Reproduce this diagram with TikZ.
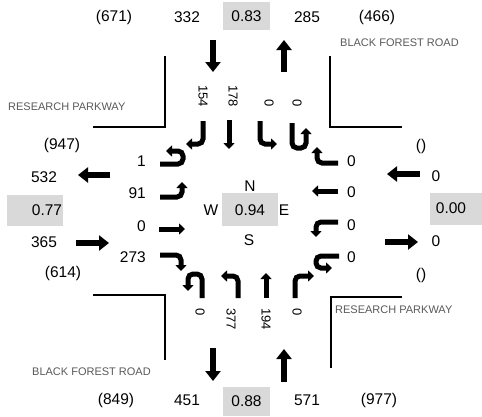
\documentclass[tikz,border=0pt]{standalone}
\usepackage{fontspec}
\setmainfont{Liberation Sans}
\usetikzlibrary{arrows.meta}

\begin{document}
\begin{tikzpicture}[x=1pt, y=-1pt,
    every node/.style={inner sep=0pt, font=\fontsize{15.5}{18}\selectfont},
    turnVol/.style={rotate=-90, font=\fontsize{13}{15}\selectfont},
    roadName/.style={anchor=west, text=roadColour, font=\fontsize{11}{13}\selectfont},
    approach/.style={line width=6.5pt, -{Triangle[length=10pt, width=15pt]}},
    movement/.style={line width=5pt, rounded corners=5pt, -{Triangle[length=6pt, width=11pt]}},
    curb/.style={line width=1.5pt}]
    % Define colours
    \definecolor{boxColour}{HTML}{D9D9D9}
    \definecolor{roadColour}{HTML}{595959}

    % Fix the canvas
    \useasboundingbox (0,0) rectangle (482,416);

    % Draw the shaded boxes
    \fill[boxColour] (223,2) rectangle (270,30);
    \fill[boxColour] (223,387) rectangle (270,416);
    \fill[boxColour] (7,195) rectangle (63,226);
    \fill[boxColour] (430,193) rectangle (482,225);
    \fill[boxColour] (222,193) rectangle (278,226);

    % Draw the kerb lines
    \draw[curb] (165,56) -- (165,127) -- (93,127);
    \draw[curb] (330,56) -- (330,127) -- (402,127);
    \draw[curb] (93,295) -- (165,295) -- (165,360);
    \draw[curb] (402,297) -- (331,297) -- (331,368);

    % Label the roads
    \node[roadName] (bfrTop) at (340,43) {BLACK FOREST ROAD};
    \node[roadName] (rpLeft) at (8,107) {RESEARCH PARKWAY};
    \node[roadName] (rpRight) at (335,310) {RESEARCH PARKWAY};
    \node[roadName] (bfrBottom) at (32,372) {BLACK FOREST ROAD};

    % North leg totals
    \node (nTotA) at (114,17) {(671)};
    \node (nIn) at (187,17) {332};
    \node (nPhf) at (246.5,16) {0.83};
    \node (nOut) at (307,17) {285};
    \node (nTotB) at (377,17) {(466)};

    % South leg totals
    \node (sTotA) at (116,400) {(849)};
    \node (sOut) at (187,400) {451};
    \node (sPhf) at (246.5,401) {0.88};
    \node (sIn) at (307,400) {571};
    \node (sTotB) at (379,400) {(977)};

    % West leg totals
    \node (wTotA) at (62,145) {(947)};
    \node (wOut) at (44,177) {532};
    \node (wPhf) at (47,210) {0.77};
    \node (wIn) at (44,242) {365};
    \node (wTotB) at (63,273) {(614)};

    % East leg totals
    \node (eTotA) at (421,146) {()};
    \node (eIn) at (436,176) {0};
    \node (ePhf) at (451,208) {0.00};
    \node (eOut) at (436,241) {0};
    \node (eTotB) at (421,275) {()};

    % Compass and intersection value
    \node (north) at (250,186) {N};
    \node (west) at (211,210) {W};
    \node (phf) at (250,210) {0.94};
    \node (east) at (284,210) {E};
    \node (south) at (249,240) {S};

    % Draw the approach arrows
    \draw[approach] (213,40) -- (213,72);
    \draw[approach] (284,72) -- (284,40);
    \draw[approach] (213,348) -- (213,381);
    \draw[approach] (284,382) -- (284,349);
    \draw[approach] (110,175) -- (78,175);
    \draw[approach] (76,243) -- (109,243);
    \draw[approach] (420,174) -- (387,174);
    \draw[approach] (385,242) -- (418,242);

    % Southbound movements (from north)
    \draw[movement] (203,121) -- (203,144) -- (186,144);
    \draw[movement] (229,120) -- (229,149);
    \draw[movement] (260,121) -- (260,144) -- (277,144);
    \draw[movement] (292,123) -- (292,148) -- (306,148) -- (306,128);
    \foreach \vol/\x [count=\i] in {154/203, 178/233, 0/269, 0/297}
        \node[turnVol, anchor=east] (sbVol\i) at (\x,107) {\vol};

    % Eastbound movements (from west)
    \draw[movement] (160,164) -- (183,164) -- (183,151) -- (166,151);
    \draw[movement] (160,197) -- (182,197) -- (182,182);
    \draw[movement] (159,229) -- (185,229);
    \draw[movement] (160,255) -- (181,255) -- (181,271);
    \foreach \vol/\y [count=\i] in {1/161, 91/193, 0/226, 273/257}
        \node[anchor=east] (ebVol\i) at (146,\y) {\vol};

    % Westbound movements (from east)
    \draw[movement] (338,163) -- (317,163) -- (317,147);
    \draw[movement] (338,191) -- (312,191);
    \draw[movement] (338,222) -- (316,222) -- (316,237);
    \draw[movement] (339,256) -- (316,256) -- (316,268) -- (332,268);
    \foreach \vol/\y [count=\i] in {0/161, 0/192, 0/225, 0/257}
        \node[anchor=west] (wbVol\i) at (347,\y) {\vol};

    % Northbound movements (from south)
    \draw[movement] (202,298) -- (202,274) -- (188,274) -- (188,291);
    \draw[movement] (238,298) -- (238,276) -- (221,276);
    \draw[movement] (266,298) -- (266,273);
    \draw[movement] (295,298) -- (295,276) -- (314,276);
    \foreach \vol/\x [count=\i] in {0/200, 377/231, 194/266, 0/297}
        \node[turnVol, anchor=west] (nbVol\i) at (\x,308) {\vol};

\end{tikzpicture}
\end{document}
